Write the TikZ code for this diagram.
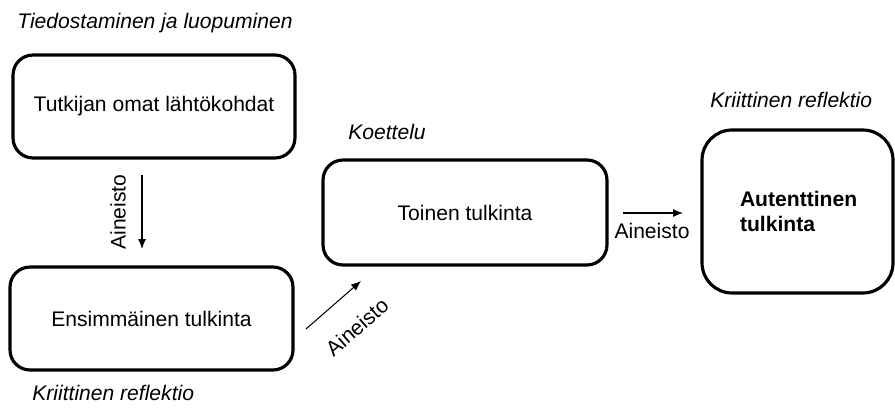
\documentclass[tikz,border=0pt]{standalone}
\usepackage{fontspec}
\setmainfont{Liberation Sans}
\usepackage{tikz}
\usetikzlibrary{arrows.meta,positioning}

\begin{document}
\begin{tikzpicture}[x=0.02cm,y=-0.02cm]

\tikzset{roundbox/.style={draw=black,line width=1.8pt,rounded corners=0.4cm,inner sep=0pt,font=\fontsize{12}{14}\selectfont},
phaselabel/.style={anchor=west,inner sep=0pt,font=\fontsize{12}{14}\selectfont\itshape},
flowlabel/.style={inner sep=0pt,font=\fontsize{12}{14}\selectfont},
flowarrow/.style={line width=0.6pt,-{Latex[length=2mm,width=1.6mm]}}}

\useasboundingbox (0,0) rectangle (895,412);

% Boxes
\node[roundbox,minimum width=5.64cm,minimum height=2.06cm] (omat) at (154,106.5) {Tutkijan omat lähtökohdat\hspace{0.16cm}};
\node[roundbox,minimum width=5.66cm,minimum height=2.06cm] (ensim) at (151.5,318.5) {Ensimmäinen tulkinta\hspace{0.4cm}};
\node[roundbox,minimum width=5.68cm,minimum height=2.1cm] (toinen) at (465,212.5) {Toinen tulkinta\hspace{0.36cm}};
\node[roundbox,rounded corners=0.6cm,minimum width=3.82cm,minimum height=3.26cm,text width=2.3cm,align=left,font=\fontsize{12}{14}\selectfont\bfseries] (autent) at (797.5,211.5) {Autenttinen\\tulkinta\\[0.15cm]};

% Phase labels
\node[phaselabel] (tied) at (17,23) {Tiedostaminen ja luopuminen};
\node[phaselabel] (krit1) at (32,393) {Kriittinen reflektio};
\node[phaselabel] (koet) at (348,132) {Koettelu};
\node[phaselabel] (krit2) at (710,100) {Kriittinen reflektio};

% Arrows
\coordinate (d1) at (142,175); \coordinate (d2) at (142,249);
\coordinate (g1) at (306,329); \coordinate (g2) at (361,281);
\coordinate (r1) at (623,213); \coordinate (r2) at (683,213);
\draw[flowarrow] (d1) -- (d2);
\draw[flowarrow] (g1) -- (g2);
\draw[flowarrow] (r1) -- (r2);

% Arrow labels
\node[flowlabel,rotate=90] (ain1) at (118,212) {Aineisto};
\node[flowlabel,rotate=41] (ain2) at (357,327) {Aineisto};
\node[flowlabel] (ain3) at (652,231) {Aineisto};

\end{tikzpicture}
\end{document}
